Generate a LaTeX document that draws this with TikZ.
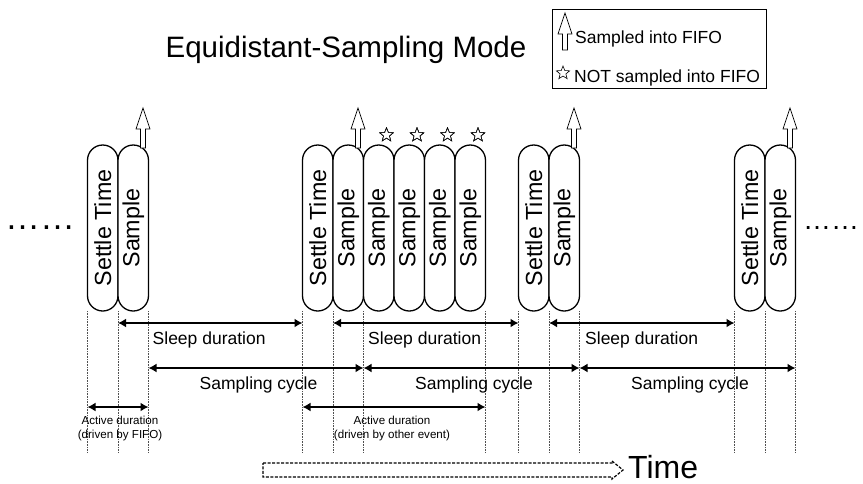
\documentclass[tikz,border=0pt]{standalone}
\usepackage{fontspec}
\setmainfont{Liberation Sans}
\usepackage{graphicx}
\usepackage{tikz}
\usetikzlibrary{positioning, shapes.geometric, arrows.meta}
\tikzstyle{timing} = [x = 1pt, y = -1pt]
\definecolor{guideColor}{RGB}{80,80,80}
\tikzstyle{phaseBox} = [draw=black, fill=white, line width=1.3pt, rounded corners=15.25pt, minimum width=30.5pt, minimum height=166pt, inner sep=0pt, outer sep=0pt, font=\fontsize{23.3}{26}\selectfont]
\tikzstyle{guideLine} = [color=guideColor, densely dotted, line width=0.6pt]
\tikzstyle{durationArrow} = [line width=2.6pt, >={Latex[length=8pt,width=9pt]}, <->]
\tikzstyle{durationText} = [font=\fontsize{17.5}{20}\selectfont, inner sep=0pt]
\tikzstyle{activeText} = [font=\fontsize{11.6}{14}\selectfont, inner sep=0pt, align=center]
\tikzstyle{titleText} = [font=\fontsize{29.5}{32}\selectfont, inner sep=0pt]
\tikzstyle{legendText} = [font=\fontsize{17.5}{20}\selectfont, inner sep=0pt]
\tikzstyle{legendBox} = [draw=black, line width=0.8pt, minimum width=214pt, minimum height=79pt, inner sep=0pt]
\tikzstyle{dotsText} = [font=\fontsize{35}{38}\selectfont, inner sep=0pt]
\tikzstyle{timeText} = [font=\fontsize{32}{36}\selectfont, inner sep=0pt]
\tikzstyle{fifoArrowStyle} = [draw=black, fill=white, line width=0.7pt, line join=miter]
\tikzstyle{starMark} = [star, star points=5, star point ratio=2.3, draw=black, fill=white, line width=0.6pt, minimum size=14pt, inner sep=0pt]
\tikzstyle{timeArrowStyle} = [draw=black, dash pattern=on 3pt off 1.5pt, line width=1.2pt]
\newcommand{\fifoArrow}[2]{\filldraw [fifoArrowStyle] (#1) ++(-2.5,0) -- ++(0,21 - #2) -- ++(-4.5,0) -- ++(7,-21) -- ++(7,21) -- ++(-4.5,0) -- ++(0,#2 - 21) -- cycle;}
\newcommand{\settleLabel}{\rotatebox{90}{Settle Time}}
\newcommand{\sampleLabel}{\rotatebox{90}{Sample}}

\begin{document}
\begin{tikzpicture}[timing]
  \useasboundingbox (0,0) rectangle (863,483);
  \node[titleText, anchor=base] (title) at (346,57) {Equidistant-Sampling Mode};

  \node[legendBox] (legend) at (659,48.5) {};
  \coordinate (legendArrowBase) at (565,50);
  \fifoArrow{legendArrowBase}{37}
  \node[legendText, anchor=base west] (legendSampled) at (575,43) {Sampled into FIFO};
  \node[starMark] (legendStar) at (563,73) {};
  \node[legendText, anchor=base west] (legendSkipped) at (574,82) {NOT sampled into FIFO};

  \node[dotsText, anchor=base west] (leftDots) at (5,229) {……};
  \node[dotsText, font=\fontsize{28}{32}\selectfont, anchor=base west] (rightDots) at (803,229) {……};

  \node[phaseBox] (settleA) at (102.75,228) {\settleLabel};
  \node[phaseBox, right=0pt of settleA] (sampleA) {\sampleLabel};
  \node[phaseBox] (settleB) at (317.75,228) {\settleLabel};
  \node[phaseBox, right=0pt of settleB] (sampleB1) {\sampleLabel};
  \foreach \n/\p in {2/1,3/2,4/3,5/4}
    \node[phaseBox, right=0pt of sampleB\p] (sampleB\n) {\sampleLabel};
  \node[phaseBox] (settleC) at (533.75,228) {\settleLabel};
  \node[phaseBox, right=0pt of settleC] (sampleC) {\sampleLabel};
  \node[phaseBox] (settleD) at (749.75,228) {\settleLabel};
  \node[phaseBox, right=0pt of settleD] (sampleD) {\sampleLabel};

  \foreach \kept in {sampleA, sampleB1, sampleC, sampleD}
    \fifoArrow{[shift={(-5.5,3)}]\kept.north east}{40}
  \foreach \n in {2,...,5}
    \node[starMark] (skipped\n) at ([shift={(-7.5,-10)}]sampleB\n.north east) {};

  \coordinate (floor) at (0,452);
  \foreach \edge in {settleA.south west, settleA.south east, sampleA.south east, settleB.south west, settleB.south east, sampleB1.south east, sampleB5.south east, settleC.south west, settleC.south east, sampleC.south east, settleD.south west, settleD.south east, sampleD.south east}
    \draw[guideLine] (\edge) -- (\edge |- floor);

  \coordinate (sleepRow) at (0,323);
  \coordinate (cycleRow) at (0,368);
  \coordinate (activeRow) at (0,407);

  \draw[durationArrow] (sampleA.south west |- sleepRow) -- (settleB.south west |- sleepRow);
  \draw[durationArrow] (sampleB1.south west |- sleepRow) -- (settleC.south west |- sleepRow);
  \draw[durationArrow] (sampleC.south west |- sleepRow) -- (settleD.south west |- sleepRow);
  \node[durationText, anchor=base west] (sleepTextA) at (152.5,344) {Sleep duration};
  \node[durationText, anchor=base west] (sleepTextB) at (368,344) {Sleep duration};
  \node[durationText, anchor=base west] (sleepTextC) at (585,344) {Sleep duration};

  \draw[durationArrow] (sampleA.south east |- cycleRow) -- (sampleB1.south east |- cycleRow)
    node[durationText, midway, anchor=base, yshift=-21pt, xshift=2.5pt] (cycleTextA) {Sampling cycle};
  \draw[durationArrow] (sampleB1.south east |- cycleRow) -- (sampleC.south east |- cycleRow)
    node[durationText, midway, anchor=base, yshift=-21pt, xshift=2.5pt] (cycleTextB) {Sampling cycle};
  \draw[durationArrow] (sampleC.south east |- cycleRow) -- (sampleD.south east |- cycleRow)
    node[durationText, midway, anchor=base, yshift=-21pt, xshift=2.5pt] (cycleTextC) {Sampling cycle};

  \draw[durationArrow] (settleA.south west |- activeRow) -- (sampleA.south east |- activeRow)
    node[activeText, midway, anchor=north, yshift=-7.5pt, xshift=2pt] (activeTextA) {Active duration\\(driven by FIFO)};
  \draw[durationArrow] (settleB.south west |- activeRow) -- (sampleB5.south east |- activeRow)
    node[activeText, midway, anchor=north, yshift=-7.5pt, xshift=-2pt] (activeTextB) {Active duration\\(driven by other event)};

  \coordinate (timeStart) at (263,470);
  \coordinate (timeTip) at (623,470);
  \draw[timeArrowStyle] (timeStart) ++(0,-7) -- ++(349,0) -- ++(0,-2) -- (timeTip) -- ++(-11,9) -- ++(0,-2) -- ++(-349,0) -- cycle;
  \node[timeText, anchor=base west] (timeLabel) at (628,478) {Time};
\end{tikzpicture}
\end{document}
